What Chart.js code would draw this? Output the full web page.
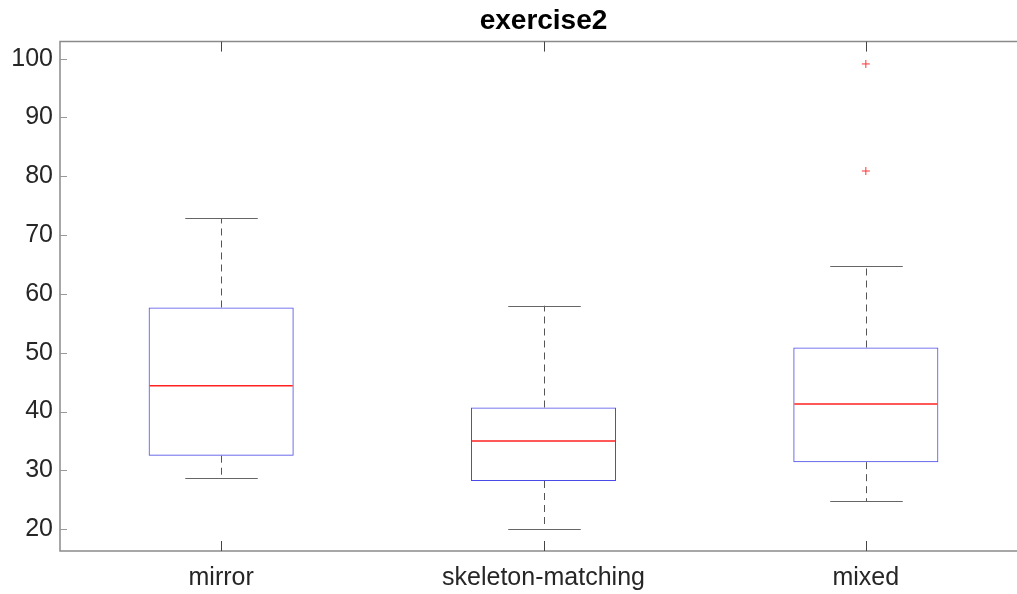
<!DOCTYPE html>
<html>
<head>
<meta charset="utf-8">
<script src="https://cdn.jsdelivr.net/npm/chart.js@4"></script>
<style>
  html, body { margin: 0; padding: 0; background: #fff; overflow: hidden; }
  #wrap { width: 1032px; height: 594px; position: relative; }
</style>
</head>
<body>
<div id="wrap"><canvas id="chart"></canvas></div>
<script>
const categories = ['mirror', 'skeleton-matching', 'mixed'];
const whiskerLow = [28.7, 20.0, 24.8];
const q1 = [32.5, 28.2, 31.4];
const median = [44.4, 35.0, 41.3];
const q3 = [57.7, 40.7, 50.9];
const whiskerHigh = [72.9, 58.0, 64.7];
const outliers = [{ x: 'mixed', y: 99.1 }, { x: 'mixed', y: 80.9 }];
const yTicks = [20, 30, 40, 50, 60, 70, 80, 90, 100];

const font = "'Liberation Sans', Arial, sans-serif";
const boxFrac = 0.45;

// whiskers, medians, frame and inward ticks, drawn from the scales
const boxExtras = {
    id: 'boxExtras',
    afterDatasetsDraw(chart) {
        const c = chart.ctx, x = chart.scales.x, y = chart.scales.y;
        const half = x.width / categories.length * boxFrac / 2;
        c.save();
        c.lineWidth = 1;
        categories.forEach((cat, i) => {
            const cx = Math.round(x.getPixelForValue(i)) + 0.5;
            // dashed whiskers
            c.strokeStyle = '#555';
            c.setLineDash([7, 5]);
            c.beginPath();
            c.moveTo(cx, y.getPixelForValue(q3[i]));
            c.lineTo(cx, y.getPixelForValue(whiskerHigh[i]));
            c.moveTo(cx, y.getPixelForValue(q1[i]));
            c.lineTo(cx, y.getPixelForValue(whiskerLow[i]));
            c.stroke();
            // caps
            c.setLineDash([]);
            c.strokeStyle = '#666';
            c.beginPath();
            [whiskerHigh[i], whiskerLow[i]].forEach(v => {
                const py = Math.round(y.getPixelForValue(v)) + 0.5;
                c.moveTo(cx - half / 2, py);
                c.lineTo(cx + half / 2, py);
            });
            c.stroke();
        });
        // medians
        c.setLineDash([]);
        c.strokeStyle = '#ff2020';
        c.lineWidth = 1.4;
        categories.forEach((cat, i) => {
            const cx = x.getPixelForValue(i);
            const my = y.getPixelForValue(median[i]);
            c.beginPath();
            c.moveTo(cx - half + 1, my);
            c.lineTo(cx + half - 1, my);
            c.stroke();
        });
        c.restore();
    },
    afterDraw(chart) {
        const c = chart.ctx, a = chart.chartArea, x = chart.scales.x, y = chart.scales.y;
        const tl = 10;
        c.save();
        c.strokeStyle = '#8a8a8a';
        c.lineWidth = 1.5;
        c.beginPath();
        c.moveTo(a.right, a.top);
        c.lineTo(a.left, a.top);
        c.lineTo(a.left, a.bottom);
        c.lineTo(a.right, a.bottom);
        c.stroke();
        c.strokeStyle = '#444';
        c.lineWidth = 1;
        c.beginPath();
        categories.forEach((cat, i) => {
            const px = Math.round(x.getPixelForValue(i)) + 0.5;
            c.moveTo(px, a.top);
            c.lineTo(px, a.top + tl);
            c.moveTo(px, a.bottom);
            c.lineTo(px, a.bottom - tl);
        });
        c.stroke();
        c.strokeStyle = '#999';
        c.beginPath();
        yTicks.forEach(v => {
            const py = Math.round(y.getPixelForValue(v)) + 0.5;
            c.moveTo(a.left, py);
            c.lineTo(a.left + tl - 3, py);
        });
        c.stroke();
        c.restore();
    }
};

new Chart(document.getElementById('chart'), {
    type: 'bar',
    data: {
        labels: categories,
        datasets: [
            {
                label: 'box',
                data: categories.map((_, i) => [q1[i], q3[i]]),
                backgroundColor: 'rgba(0,0,0,0)',
                borderColor: '#4a4ae6',
                borderWidth: 1,
                borderSkipped: false,
                barPercentage: boxFrac,
                categoryPercentage: 1
            },
            {
                type: 'line',
                label: 'outliers',
                data: outliers,
                showLine: false,
                pointStyle: 'cross',
                pointRadius: 4,
                pointBorderColor: '#f33',
                pointBorderWidth: 1,
                pointBackgroundColor: '#f33'
            }
        ]
    },
    options: {
        responsive: true,
        maintainAspectRatio: false,
        animation: false,
        layout: { padding: { top: 0, right: 3, bottom: 0, left: 0 } },
        plugins: {
            legend: { display: false },
            tooltip: { enabled: false },
            title: {
                display: true,
                text: 'exercise2',
                fullSize: false,
                color: '#000',
                font: { family: font, size: 28, weight: 'bold' },
                padding: { top: 4, bottom: 4 }
            }
        },
        scales: {
            x: {
                offset: true,
                grid: { display: false, drawTicks: false },
                border: { display: false },
                ticks: { color: '#262626', font: { family: font, size: 25 }, padding: 12 },
                afterFit(s) { s.height = 43; }
            },
            y: {
                min: 16.3,
                max: 102.9,
                grid: { display: false, drawTicks: false },
                border: { display: false },
                afterBuildTicks(s) { s.ticks = yTicks.map(v => ({ value: v })); },
                ticks: { color: '#262626', font: { family: font, size: 25 }, padding: 7 },
                afterFit(s) { s.width = 60; }
            }
        }
    },
    plugins: [boxExtras]
});
</script>
</body>
</html>
